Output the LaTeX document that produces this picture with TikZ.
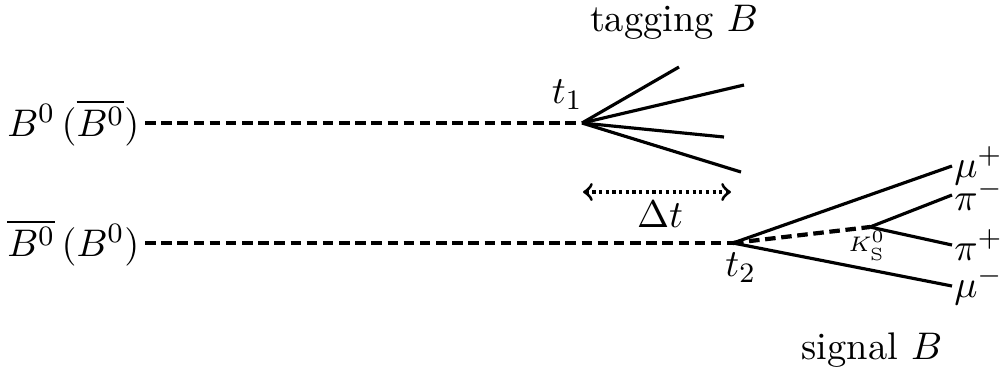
\documentclass[tikz,border=0pt,11pt]{standalone}
\usetikzlibrary{arrows.meta, positioning}
\tikzset{
  bline/.style={line width=1.2pt, dash pattern=on 3pt off 1.6pt},
  track/.style={line width=0.9pt},
  plabel/.style={anchor=west, inner sep=0.5pt},
}

\begin{document}
\begin{tikzpicture}
          \useasboundingbox (0,0) rectangle (10.01,3.74);

          % Vertices de desintegracion
          \coordinate (t1) at (5.82,2.51);
          \coordinate (t2) at (7.33,1.31);
          \coordinate (ks) at (8.70,1.47);

          % Mesones B entrantes
          \node[anchor=east, inner sep=0pt] (bup) at (1.40,2.51) {$B^0\,\bigl(\overline{B^0}\bigr)$};
          \node[anchor=east, inner sep=0pt] (bdown) at (1.40,1.31) {$\overline{B^0}\,\bigl(B^0\bigr)$};
          \draw[bline] (bup.east) ++(0.05,0) coordinate (bupstart) -- (t1);
          \draw[bline] (bdown.east) ++(0.05,0) coordinate (bdownstart) -- (t2);
          \node[above left=0pt and -4pt of t1] (lt1) {$t_1$};
          \node[below right=-1pt and -6pt of t2] (lt2) {$t_2$};

          % Lado de etiquetado
          \coordinate (tg1) at (6.79,3.07);
          \coordinate (tg2) at (7.44,2.89);
          \coordinate (tg3) at (7.24,2.37);
          \coordinate (tg4) at (7.41,2.02);
          \foreach \i in {1,...,4}
            \draw[track] (t1) -- (tg\i);
          \node (tagging) at (6.74,3.52) {tagging $B$};

          % Diferencia de tiempo
          \coordinate (dtl) at (5.83,1.82);
          \coordinate (dtr) at (7.31,1.82);
          \draw[<->, >=to, line width=0.9pt, densely dotted] (dtl) -- (dtr);
          \node (dt) at (6.60,1.60) {$\Delta t$};

          % Lado de senal
          \node[plabel] (mup) at (9.52,2.08) {$\mu^+$};
          \node[plabel] (pim) at (9.52,1.79) {$\pi^-$};
          \node[plabel] (pip) at (9.52,1.29) {$\pi^+$};
          \node[plabel] (mum) at (9.52,0.88) {$\mu^-$};
          \draw[track] (t2) -- (mup.west);
          \draw[track] (t2) -- (mum.west);
          \draw[bline] (t2) -- (ks);
          \draw[track] (ks) -- (pim.west);
          \draw[track] (ks) -- (pip.west);
          \node[font=\tiny, inner sep=0pt] (lks) at (8.67,1.28) {$K_{\mathrm{S}}^0$};
          \node (signal) at (8.72,0.24) {signal $B$};
        \end{tikzpicture}
\end{document}
